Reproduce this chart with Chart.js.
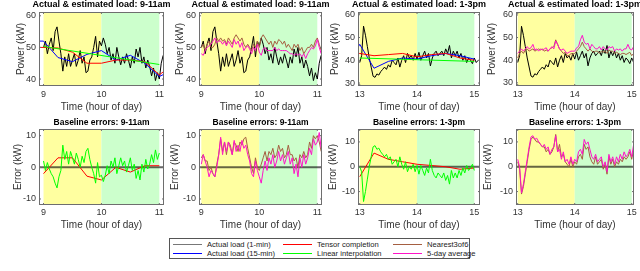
<!DOCTYPE html>
<html>
<head>
<meta charset="utf-8">
<script src="https://cdn.jsdelivr.net/npm/chart.js@4.4.1/dist/chart.umd.min.js"></script>
<style>
  body { margin: 0; background: #fff; width: 640px; height: 271px; overflow: hidden; position: relative; font-family: "Liberation Sans", Arial, sans-serif; }
  canvas { position: absolute; }
  #legend { position: absolute; left: 169px; top: 238px; width: 301px; height: 21px; border: 1px solid #555; box-sizing: border-box; background: #fff; }
  .item { position: absolute; font-size: 7.6px; color: #1a1a1a; white-space: nowrap; line-height: 8px; }
  .item span.ln { display: inline-block; width: 29px; height: 0; border-top: 1px solid; vertical-align: middle; margin-right: 5px; }
</style>
</head>
<body>
<div id="legend"></div>
<script>
// ---- data ----
const hourTicksAM = [9, 10, 11];
const hourTicksPM = [13, 14, 15];
const powerTicksAM = [40, 50, 60];
const powerTicksPM = [30, 40, 50, 60];
const errTicks = [-10, 0, 10];
const bandsAM = [9, 10, 11];
const bandsPM = [13, 14, 15];
const errBaseline = 0;

// minutes after start of window (1-min load, sampled every 2 min)
const minutes = [0,2,4,6,8,10,12,14,16,18,20,22,24,26,28,30,32,34,36,38,40,42,44,46,48,50,52,54,56,58,60,
  62,64,66,68,70,72,74,76,78,80,82,84,86,88,90,92,94,96,98,100,102,104,106,108,110,112,114,116,118,120,122,124];
const quarterAM = [-15,0,15,30,45,60,75,90,105,120,135];
const quarterPM = [-15,0,15,30,45,60,75,90,105,120];
const quarterErr = [0,15,30,45,60,75,90,105,120];
const lineMin = [0, 120];

// 9-11am
const blackAM = [50,52,48,51,53,49,55,56.5,52,48,42.5,47,44,48,44,46,48,44,46,49,45,47,42,42.5,46,47,50,53.5,47,52,50.5,
  53,51,48,50,46,48,45,50,47,44.5,47,45,48,46,43.5,47,45,49.5,47,50,45,47,43.5,46,44,41,43.5,39.5,42,40,45,47.5];
const blueAM = [52,52,46.8,45.5,47.8,49,46,47.5,45,40.8,43];
const redAM = [50,50,49.8,48.5,45,45,46,46,45.5,41.3,44.9];
const greenAM = [50.3, 44.6];
const brownAM = [50,51,49,51,52,50,50,51,53,52,53,52,52.5,51,53,52,51,53,54,53,52,53,51,50,51,50,49,51,50,52,
  50,53,54,53,52,51,52,50,52,51,52.5,52,51,52,50,51,50,49,51,50,51,49,50,48,49,50,50,51,50,52,53,51,49];
const magentaAM = [48,47.5,49,50,50.5,51,52,53,51.5,52,52,51,52,50.5,52,51,50,52.5,51,52,50,51.5,49,50,50.5,49.5,48,50,49,51,
  48.5,47.5,49.5,50,49,49,49,49,50,49,49.5,49,49,49,49,48.5,48,48,47.5,48,47.5,48,47,48,46.5,48,49,50,49.5,50.5,52.5,50,48];
const redErrAM = [-2,3,3,-2.8,-4,0,-1.5,0.5,0.5];
const greenErrAM = [2,-1,1.5,-0.5,-2,-3,-5,-6.5,-3,-1,7,2.5,5,1,5,3,1,4.5,2.5,0,3.5,1.5,5,6,2.5,0,-2,-5,1.5,-3,
  -2.5,-4.5,-2.5,0.5,-2,2,0,3,-2,0.5,3,0.5,2,-1.5,0.5,3,-1,1,-3.5,-1,-4,1,-1.5,2.5,-0.5,1,4,1.5,5.5,2.5,4.5];
const brownErrAM = [3,4,2,2,-1,0,-2,-3,1,4,9,5,8,4,8,7,4,8,7,5,8,7,9,9.5,6,3,0,-2,3,0,
  -1,1,3,5,2,5,4,6,3,4,7,5,6,3,4,7,4,4,2,3,0,4,3,5,3,4,8,6,10,9,10,8,5];
const magentaErrAM = [1,4,2,0,-3,-1,-2,-3,0,4,9.5,4,8,5,8,6,4,8.5,5,7,5,8.5,6,7,4,2,-2,-3,2,-1,
  -3,-5,-1,2,-1,3,1,4,0,2,5,2,4,1,3,5,1,3,-2,1,-3,3,0,4,1,3,6,4,9,7,8,11,6];

// 1-3pm
const blackPM = [39,42,55,51,46,41,37,33,32.5,34,33.5,35,36,37,36,38,37,40,39,38,41,37,40,42,39,43,41,42,40,43,
  40.5,43.5,40,42,44,41,43,37.5,41,43,44,42,43,44,42,45,43,46.5,41,44,42,44,41,43,40,42,39,41,40,38.5,41,39,40];
const bluePM = [35,47,36.5,39.5,41,40.5,42,43,42,40.5];
const redPM = [41,43,42,42.5,43,41.5,42.5,43,41,40];
const greenPM = [41, 39.5];
const brownPM = [41,43,44,43,44.5,45,44,44.5,45,44,44.5,45,44.5,45,44,44.5,44,45,45.5,46,49,47,45,44,43,43.5,42,42,43,42.5,
  43,44,45,46,48,46,45,44,45,44,43.5,44,44,43,44,43.5,44,43,44.5,44,44,43,43.5,43,42.5,43,43,42.5,43,43.5,42,43,42.5];
const magentaPM = [43,44,45,44,45,46,45,45.5,47,44.5,45,44,45,44.5,45,45.5,44,45,46,45,48.5,47,45,44.5,45,44,43,43.5,44,44,
  44,45.5,46,49,51,48,47,47.5,45,47,46,45,45,46,44.5,46,45,44.5,46,45.5,46,44,45,44.5,45,44,45,45,47,45,44.5,46,44];
const redErrPM = [-4,5.5,3,2,1,0.5,0,-1,-0.5];
const greenErrPM = [0,-2,-14,-10,-5,0,4,8,8.5,7,7.5,6,5,4,5,3,4,1,2,3,0,4,1,-1,2,-2,0,-1,1,-2,
  0.5,-3,0.5,-1.5,-3.5,-0.5,-2.5,3,-1.5,-3.5,-4.5,-2.5,-3.5,-4.5,-2.5,-5.5,-3.5,-7,-1.5,-4.5,-2.5,-4.5,-1.5,-3.5,-0.5,-2.5,0.5,-1.5,-0.5,1,-1.5];
const brownErrPM = [2,-1,-11,-8,-3,2,7,11,12,11,10,10,9,8,8,6,7,5,6,8,13,6,9,4,5,2,1,0,3,0,
  2,1,4,5,3,9,7,8,4,2,1,4,1,2,3,-1,1,-3,4,1,3,0,2,1,3,2,4,3,4,6,3,7,5];
const magentaErrPM = [3,0,-10.5,-7,-2,3,8,12,12.5,11,11.5,10,9,8,9,7,8,5,7,8,12.5,6,7,3,6,2,3,1,4,1,
  3,2,6,7,5,11,9,10,7,4,3,5,2,3,4,0,2,-2,5,2,4,1,4,2,5,3,6,4,5,7,4,9,6];

const legendLabels = ['Actual load (1-min)', 'Actual load (15-min)', 'Tensor completion', 'Linear interpolation', 'Nearest3of6', '5-day average'];

// ---- styles ----
const C = {
  black: '#000000', blue: '#0000ff', red: '#ff0000', green: '#00ff00',
  brown: 'rgb(165,95,65)', magenta: 'rgb(255,20,200)'
};
const legendColors = ['#777', C.blue, C.red, C.green, C.brown, C.magenta];
const bandColors = ['rgb(255,255,160)', 'rgb(204,255,204)'];
const FONT = '"Liberation Sans", Arial, sans-serif';
Chart.defaults.font.family = FONT;

function pts(start, mins, vals) {
  return vals.map((v, i) => ({ x: start + mins[i] / 60, y: v }));
}
function series(list) {
  // first in list drawn at the bottom, like MATLAB
  return list.map((s, i) => ({
    data: s[1], borderColor: s[0], borderWidth: 1, pointRadius: 0, tension: 0,
    fill: false, clip: 0, order: list.length - i
  }));
}

const panelDeco = {
  id: 'panelDeco',
  beforeDatasetsDraw(chart, args, o) {
    const { ctx, chartArea: a, scales: { x, y } } = chart;
    ctx.save();
    for (let i = 0; i < o.bands.length - 1; i++) {
      const x0 = x.getPixelForValue(o.bands[i]);
      const x1 = x.getPixelForValue(o.bands[i + 1]);
      ctx.fillStyle = bandColors[i];
      ctx.fillRect(x0, a.top, x1 - x0, a.bottom - a.top);
    }
    if (o.zero) {
      const y0 = y.getPixelForValue(errBaseline);
      ctx.strokeStyle = 'rgba(0,0,0,0.6)';
      ctx.lineWidth = 2;
      ctx.beginPath(); ctx.moveTo(a.left, y0); ctx.lineTo(a.right, y0); ctx.stroke();
    }
    ctx.restore();
  },
  afterDatasetsDraw(chart, args, o) {
    const { ctx, chartArea: a, scales: { x, y } } = chart;
    ctx.save();
    ctx.strokeStyle = '#6e6e6e';
    ctx.lineWidth = 1;
    ctx.strokeRect(a.left + 0.5, a.top + 0.5, a.right - a.left - 1, a.bottom - a.top - 1);
    ctx.beginPath();
    x.ticks.forEach(t => {
      const px = x.getPixelForValue(t.value);
      ctx.moveTo(px, a.bottom); ctx.lineTo(px, a.bottom - 2);
      ctx.moveTo(px, a.top); ctx.lineTo(px, a.top + 2);
    });
    y.ticks.forEach(t => {
      const py = y.getPixelForValue(t.value);
      ctx.moveTo(a.left, py); ctx.lineTo(a.left + 2, py);
      ctx.moveTo(a.right, py); ctx.lineTo(a.right - 2, py);
    });
    ctx.stroke();
    ctx.fillStyle = '#000';
    ctx.font = 'bold ' + o.titleSize + 'px ' + FONT;
    ctx.textAlign = 'center';
    ctx.textBaseline = 'middle';
    ctx.fillText(o.title, (a.left + a.right) / 2, o.titleY);
    ctx.restore();
  }
};
Chart.register(panelDeco);

const rows = [
  { top: 12, bottom: 86, canvasTop: 0, xH: 27, tickPad: 3, titleSize: 9, titleY: 4.6 },
  { top: 129, bottom: 205, canvasTop: 117, xH: 26, tickPad: 2, titleSize: 8.5, titleY: 5.3 }
];

const panels = [
  { row: 0, left: 39, right: 164, xr: [8.922, 11.081], yr: [37.8, 61.2], xt: hourTicksAM, yt: powerTicksAM, bands: bandsAM,
    title: 'Actual & estimated load: 9-11am', ylab: 'Power (kW)', yOff: 17.5,
    ds: [[C.black, pts(9, minutes, blackAM)], [C.blue, pts(9, quarterAM, blueAM)], [C.red, pts(9, quarterAM, redAM)], [C.green, pts(9, lineMin, greenAM)]] },
  { row: 0, left: 199, right: 322, xr: [8.960, 11.081], yr: [37.8, 61.2], xt: hourTicksAM, yt: powerTicksAM, bands: bandsAM,
    title: 'Actual & estimated load: 9-11am', ylab: 'Power (kW)', yOff: 18.5,
    ds: [[C.black, pts(9, minutes, blackAM)], [C.brown, pts(9, minutes, brownAM)], [C.magenta, pts(9, minutes, magentaAM)]] },
  { row: 0, left: 358, right: 480, xr: [12.970, 15.099], yr: [28.7, 61.2], xt: hourTicksPM, yt: powerTicksPM, bands: bandsPM,
    title: 'Actual & estimated load: 1-3pm', ylab: 'Power (kW)', yOff: 23,
    ds: [[C.black, pts(13, minutes, blackPM)], [C.blue, pts(13, quarterPM, bluePM)], [C.red, pts(13, quarterPM, redPM)], [C.green, pts(13, lineMin, greenPM)]] },
  { row: 0, left: 516, right: 634, xr: [12.970, 15.040], yr: [28.6, 61.3], xt: hourTicksPM, yt: powerTicksPM, bands: bandsPM,
    title: 'Actual & estimated load: 1-3pm', ylab: 'Power (kW)', yOff: 24,
    ds: [[C.black, pts(13, minutes, blackPM)], [C.brown, pts(13, minutes, brownPM)], [C.magenta, pts(13, minutes, magentaPM)]] },
  { row: 1, left: 39, right: 164, xr: [8.922, 11.081], yr: [-11.9, 12.1], xt: hourTicksAM, yt: errTicks, bands: bandsAM, zero: true,
    title: 'Baseline errors: 9-11am', ylab: 'Error (kW)', yOff: 21,
    ds: [[C.red, pts(9, quarterErr, redErrAM)], [C.green, pts(9, minutes, greenErrAM)]] },
  { row: 1, left: 199, right: 322, xr: [8.960, 11.081], yr: [-11.9, 12.1], xt: hourTicksAM, yt: errTicks, bands: bandsAM, zero: true,
    title: 'Baseline errors: 9-11am', ylab: 'Error (kW)', yOff: 24,
    ds: [[C.brown, pts(9, minutes, brownErrAM)], [C.magenta, pts(9, minutes, magentaErrAM)]] },
  { row: 1, left: 358, right: 480, xr: [12.970, 15.099], yr: [-15.4, 15.2], xt: hourTicksPM, yt: errTicks, bands: bandsPM, zero: true,
    title: 'Baseline errors: 1-3pm', ylab: 'Error (kW)', yOff: 24.5,
    ds: [[C.red, pts(13, quarterErr, redErrPM)], [C.green, pts(13, minutes, greenErrPM)]] },
  { row: 1, left: 516, right: 634, xr: [12.970, 15.040], yr: [-15.4, 15.2], xt: hourTicksPM, yt: errTicks, bands: bandsPM, zero: true,
    title: 'Baseline errors: 1-3pm', ylab: 'Error (kW)', yOff: 28,
    ds: [[C.brown, pts(13, minutes, brownErrPM)], [C.magenta, pts(13, minutes, magentaErrPM)]] }
];

const W = 36, PADR = 10, PADT = 12;
panels.forEach(p => {
  const r = rows[p.row];
  const cv = document.createElement('canvas');
  cv.width = W + (p.right - p.left) + PADR;
  cv.height = PADT + (r.bottom - r.top) + r.xH;
  cv.style.left = (p.left - W) + 'px';
  cv.style.top = r.canvasTop + 'px';
  document.body.appendChild(cv);

  new Chart(cv, {
    type: 'line',
    data: { datasets: series(p.ds) },
    options: {
      responsive: false,
      animation: false,
      events: [],
      layout: { padding: { top: PADT, right: PADR, left: 0, bottom: 0 } },
      plugins: {
        legend: { display: false },
        tooltip: { enabled: false },
        panelDeco: { bands: p.bands, zero: !!p.zero, title: p.title, titleSize: r.titleSize, titleY: r.titleY }
      },
      scales: {
        x: {
          type: 'linear', min: p.xr[0], max: p.xr[1],
          grid: { display: false, drawTicks: false }, border: { display: false },
          ticks: { font: { size: 9 }, color: '#333', padding: r.tickPad, maxRotation: 0, autoSkip: false },
          afterBuildTicks: ax => { ax.ticks = p.xt.map(v => ({ value: v })); },
          afterFit: ax => { ax.height = r.xH; },
          title: { display: true, text: 'Time (hour of day)', font: { size: 10 }, color: '#333', padding: { top: 0, bottom: 0 } }
        },
        y: {
          type: 'linear', min: p.yr[0], max: p.yr[1],
          grid: { display: false, drawTicks: false }, border: { display: false },
          ticks: { font: { size: 9 }, color: '#333', padding: 3, autoSkip: false },
          afterBuildTicks: ax => { ax.ticks = p.yt.map(v => ({ value: v })); },
          afterFit: ax => { ax.width = W; },
          title: { display: true, text: p.ylab, font: { size: 10 }, color: '#333', padding: { top: W - p.yOff - 6, bottom: 0 } }
        }
      }
    }
  });
});

// legend (column-major, 3 columns x 2 rows)
const legend = document.getElementById('legend');
const colX = [3, 113, 223];
const rowY = [1.5, 10.5];
legendLabels.forEach((lab, i) => {
  const d = document.createElement('div');
  d.className = 'item';
  d.style.left = colX[Math.floor(i / 2)] + 'px';
  d.style.top = rowY[i % 2] + 'px';
  d.innerHTML = '<span class="ln" style="border-color:' + legendColors[i] + '"></span>' + lab;
  legend.appendChild(d);
});
</script>
</body>
</html>
